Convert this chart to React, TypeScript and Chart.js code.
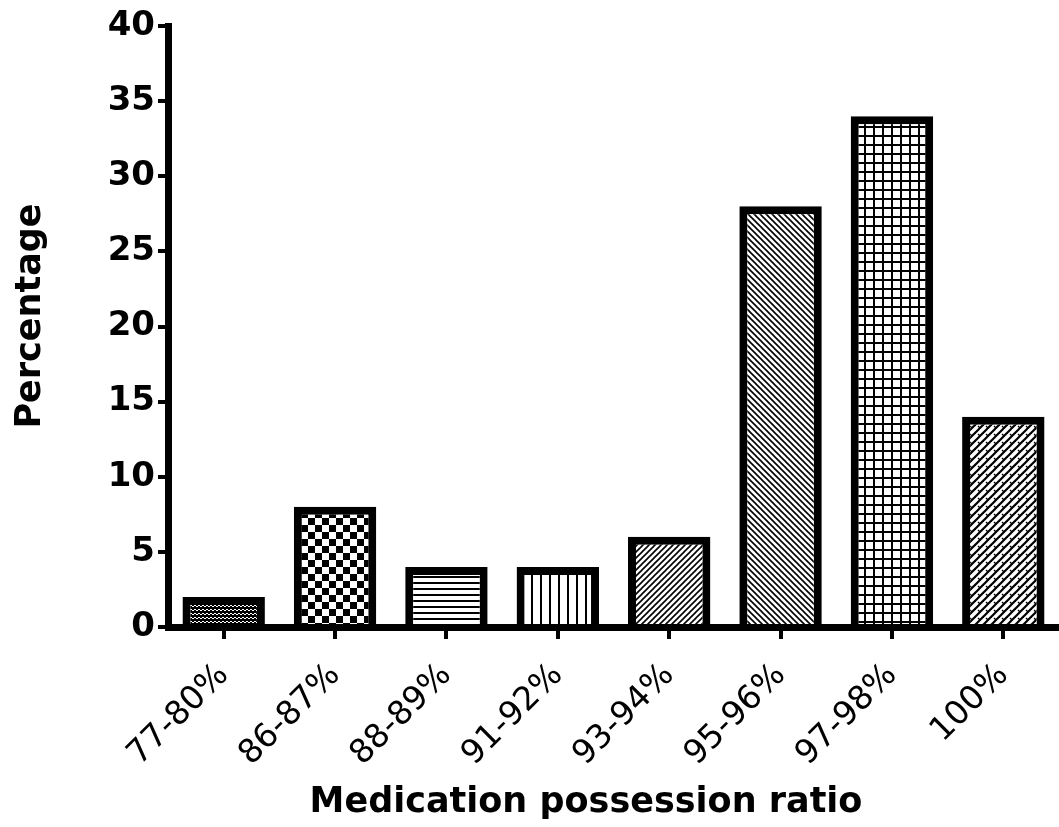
import React, { useEffect, useRef } from "react";
import { Chart, registerables } from "chart.js";
Chart.register(...registerables);

const categories = ["77-80%", "86-87%", "88-89%", "91-92%", "93-94%", "95-96%", "97-98%", "100%"];
const percentages = [2, 8, 4, 4, 6, 28, 34, 14];
const yTicks = [0, 5, 10, 15, 20, 25, 30, 35, 40];
const patternKinds = ["fineChecker", "checker", "hLines", "vLines", "diagUp", "diagDown", "grid", "hatch"];
const xTitle = "Medication possession ratio";
const yTitle = "Percentage";

function makePattern(kind: string, ctxMain: CanvasRenderingContext2D): CanvasPattern | string {
  const c = document.createElement("canvas");
  let s = 6;
  if (kind === "fineChecker") s = 4;
  if (kind === "checker") s = 14;
  if (kind === "hLines") s = 6;
  if (kind === "vLines") s = 9;
  if (kind === "diagUp" || kind === "diagDown") s = 6;
  if (kind === "grid") s = 9;
  if (kind === "hatch") s = 8;
  c.width = s;
  c.height = s;
  const g = c.getContext("2d")!;
  g.fillStyle = "#fff";
  g.fillRect(0, 0, s, s);
  g.fillStyle = "#000";
  g.strokeStyle = "#000";
  const line = (x1: number, y1: number, x2: number, y2: number, w: number) => {
    g.lineWidth = w;
    g.beginPath();
    g.moveTo(x1, y1);
    g.lineTo(x2, y2);
    g.stroke();
  };
  switch (kind) {
    case "fineChecker":
      g.fillRect(0, 0, 2, 2);
      g.fillRect(2, 2, 2, 2);
      g.fillRect(2, 0, 2, 1);
      g.fillRect(0, 3, 2, 1);
      break;
    case "checker":
      g.fillRect(0, 0, 7, 7);
      g.fillRect(7, 7, 7, 7);
      break;
    case "hLines":
      g.fillRect(0, 0, s, 2);
      break;
    case "vLines":
      g.fillRect(0, 0, 2, s);
      break;
    case "diagUp":
      line(0, s, s, 0, 1.6);
      line(-1, 1, 1, -1, 1.6);
      line(s - 1, s + 1, s + 1, s - 1, 1.6);
      break;
    case "diagDown":
      line(0, 0, s, s, 1.6);
      line(-1, s - 1, 1, s + 1, 1.6);
      line(s - 1, -1, s + 1, 1, 1.6);
      break;
    case "grid":
      g.fillRect(0, 0, s, 2);
      g.fillRect(0, 0, 2, s);
      break;
    case "hatch":
      line(0, s, s, 0, 2.2);
      line(-1, 1, 1, -1, 2.2);
      line(s - 1, s + 1, s + 1, s - 1, 2.2);
      line(2, 2, 4, 4, 1.2);
      break;
  }
  return ctxMain.createPattern(c, "repeat") || "#888";
}

const axisTitles = {
  id: "axisTitles",
  afterDraw(chart: any) {
    const ctx = chart.ctx as CanvasRenderingContext2D;
    ctx.save();
    ctx.fillStyle = "#000";
    ctx.font = "bold 35px 'DejaVu Sans'";
    ctx.textAlign = "center";
    ctx.textBaseline = "alphabetic";
    ctx.fillText(xTitle, 586, 812);
    ctx.translate(40, 316);
    ctx.rotate(-Math.PI / 2);
    ctx.fillText(yTitle, 0, 0);
    ctx.restore();
  },
};

export default function App() {
  const ref = useRef<HTMLCanvasElement | null>(null);
  useEffect(() => {
    document.body.style.margin = "0";
    const canvas = ref.current!;
    const ctx = canvas.getContext("2d")!;
    const fills = patternKinds.map((k) => makePattern(k, ctx));
    const chart = new Chart(canvas, {
      type: "bar",
      data: {
        labels: categories,
        datasets: [
          {
            data: percentages,
            backgroundColor: fills as any,
            borderColor: "#000",
            borderWidth: 8,
            barPercentage: 0.74,
            categoryPercentage: 1,
          },
        ],
      },
      plugins: [axisTitles],
      options: {
        animation: false,
        responsive: false,
        devicePixelRatio: 1,
        layout: { padding: { top: 26, right: 0, left: 0, bottom: 0 } },
        plugins: { legend: { display: false }, tooltip: { enabled: false } },
        scales: {
          x: {
            type: "category",
            grid: {
              display: true,
              drawOnChartArea: false,
              drawTicks: true,
              tickLength: 12,
              lineWidth: 4,
              color: "#000",
              offset: false,
            },
            border: { display: true, width: 7, color: "#000", z: 1 },
            ticks: {
              font: { family: "DejaVu Sans", size: 33 },
              color: "#000",
              maxRotation: 45,
              minRotation: 45,
              padding: 17,
              autoSkip: false,
            },
            afterFit: (s: any) => {
              s.height = 200;
            },
          },
          y: {
            min: 0,
            max: 40,
            afterBuildTicks: (s: any) => {
              s.ticks = yTicks.map((v) => ({ value: v }));
            },
            grid: {
              display: true,
              drawOnChartArea: false,
              drawTicks: true,
              tickLength: 10,
              lineWidth: 4,
              color: "#000",
            },
            border: { display: true, width: 7, color: "#000", z: 1 },
            ticks: {
              font: { family: "DejaVu Sans", weight: "bold", size: 34 },
              color: "#000",
              padding: 3,
            },
            afterFit: (s: any) => {
              s.width = 168;
            },
          },
        },
      },
    });
    return () => chart.destroy();
  }, []);
  return (
    <div style={{ width: 1059, height: 827 }}>
      <canvas ref={ref} width={1059} height={827} style={{ display: "block" }} />
    </div>
  );
}
